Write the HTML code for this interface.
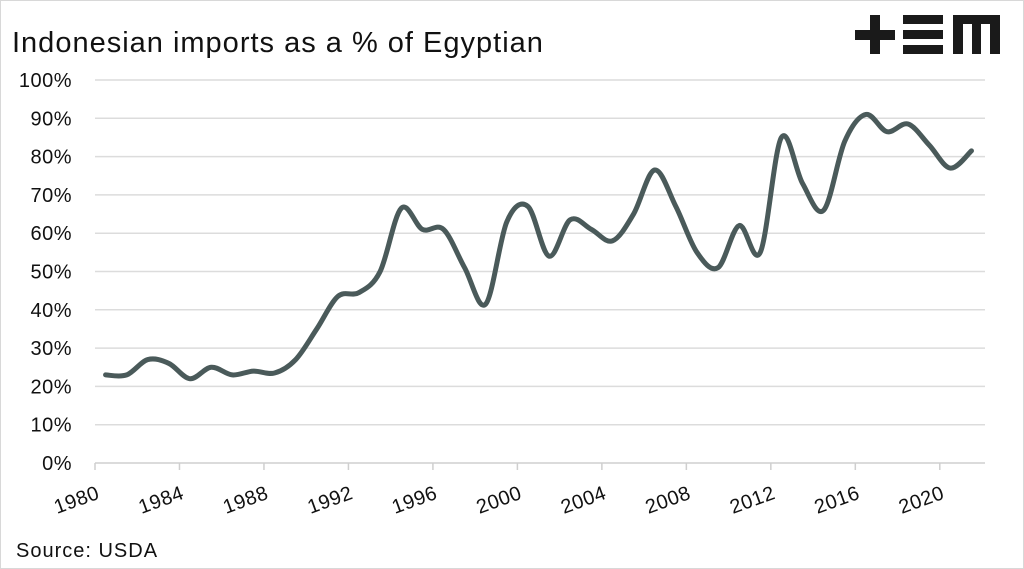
<!DOCTYPE html>
<html><head><meta charset="utf-8"><style>
html,body{margin:0;padding:0;background:#fff}
svg{display:block}
</style></head><body>
<svg id="c" width="1024" height="569" viewBox="0 0 1024 569" xmlns="http://www.w3.org/2000/svg" font-family="Liberation Sans, sans-serif">
<rect x="0.5" y="0.5" width="1023" height="568" fill="#fff" stroke="#d8d8d8"/>
<text x="12" y="52" font-size="29" letter-spacing="1" fill="#111">Indonesian imports as a % of Egyptian</text>
<g fill="#1a1a1a">
<rect x="855" y="30" width="40" height="10"/><rect x="870" y="15" width="10" height="39"/>
<rect x="903" y="15" width="40" height="9"/><rect x="903" y="30" width="40" height="9"/><rect x="903" y="45" width="40" height="9"/>
<path d="M953 15 H1000 V54 H990 V24 H981 V54 H972 V24 H963 V54 H953 Z"/>
</g>
<g id="grid" stroke="#dcdcdc" stroke-width="1.5"></g>
<g id="ylab" font-size="20" letter-spacing="0.5" fill="#111" text-anchor="end"></g>
<g id="xlab" font-size="20" letter-spacing="0.5" fill="#111"></g>
<path id="line" fill="none" stroke="#4a5a5a" stroke-width="5" stroke-linejoin="round" stroke-linecap="round"/>
<text x="16" y="557" font-size="20" letter-spacing="1" fill="#111">Source: USDA</text>
</svg>
<script>
var ns="http://www.w3.org/2000/svg";
function el(t,a,p,txt){var e=document.createElementNS(ns,t);for(var k in a)e.setAttribute(k,a[k]);if(txt)e.textContent=txt;document.getElementById(p).appendChild(e);}
var y0=463,sc=3.83,x0=95,xs=21.12;
for(var i=0;i<=10;i++){var y=y0-i*10*sc;
 el("line",{x1:95,x2:985,y1:y,y2:y,stroke:i==0?"#cfcfcf":"#dcdcdc"},"grid");
 el("text",{x:72,y:y+7},"ylab",(i*10)+"%");}
for(var yr=1980;yr<=2020;yr+=4){var x=x0+(yr-1980)*xs;
 el("line",{x1:x,x2:x,y1:463,y2:470,stroke:"#cfcfcf"},"grid");
 el("text",{x:x-38,y:514,transform:"rotate(-20 "+(x-38)+" 514)"},"xlab",""+yr);}
var d=[23,23,27,26,22,25,23,24,23.5,27,35,43.5,44.5,50,66.5,61,61,51,41.5,63,67,54,63.5,61,58,65,76.5,67,55,51,62,55,85,73,66,84,91,86.5,88.5,83,77,81.5];
var P=d.map(function(v,i){return [x0+(i+0.5)*xs,y0-v*sc];});
var s="M"+P[0][0]+" "+P[0][1];
for(var i=0;i<P.length-1;i++){var p0=P[Math.max(0,i-1)],p1=P[i],p2=P[i+1],p3=P[Math.min(P.length-1,i+2)];
 var c1=[p1[0]+(p2[0]-p0[0])/6,p1[1]+(p2[1]-p0[1])/6],c2=[p2[0]-(p3[0]-p1[0])/6,p2[1]-(p3[1]-p1[1])/6];
 s+=" C"+c1[0]+" "+c1[1]+" "+c2[0]+" "+c2[1]+" "+p2[0]+" "+p2[1];}
document.getElementById("line").setAttribute("d",s);
</script>
</body></html>
